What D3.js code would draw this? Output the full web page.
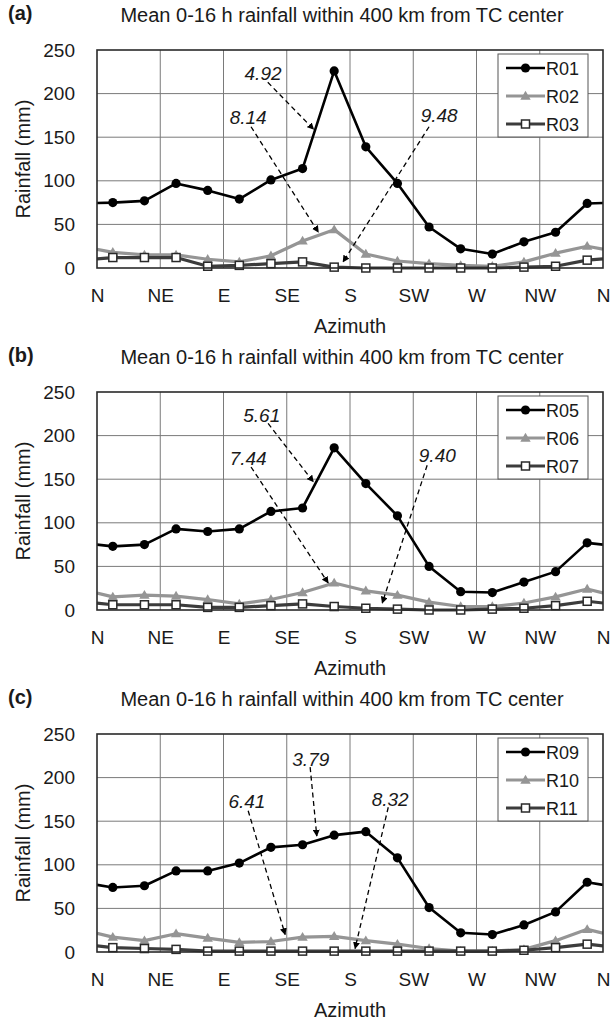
<!DOCTYPE html>
<html lang="en">
<head>
<meta charset="UTF-8">
<title>Mean 0-16 h rainfall by azimuth</title>
<style>
    body { margin: 0; background: #fff; }
    svg { display: block; font-family: "Liberation Sans", Arial, sans-serif; }
    .grid line { stroke: #7a7a7a; stroke-width: 1; }
    .frame { fill: none; stroke: #2a2a2a; stroke-width: 1.6; }
    .tick-label { font-size: 19px; fill: #1a1a1a; }
    .anno { font-size: 19px; font-style: italic; fill: #1a1a1a; }
</style>
</head>
<body>
<svg id="fig" width="612" height="1024"></svg>
<script src="https://d3js.org/d3.v7.min.js"></script>
<script>
// data, 16 azimuth bins starting just east of N
const azimuthLabels = ["N", "NE", "E", "SE", "S", "SW", "W", "NW", "N"];
const yTicks = [0, 50, 100, 150, 200, 250];
const panelLetters = ["(a)", "(b)", "(c)"];
const titleText = "Mean 0-16 h rainfall within 400 km from TC center";

const namesA = ["R01", "R02", "R03"];
const r01 = [75, 77, 97, 89, 79, 101, 114, 226, 139, 97, 47, 22, 16, 30, 41, 74];
const r02 = [18, 15, 15, 10, 7, 14, 31, 44, 16, 8, 5, 3, 2, 7, 17, 25];
const r03 = [12, 12, 12, 2, 3, 5, 7, 1, 0, 0, 0, 0, 0, 1, 2, 9];

const namesB = ["R05", "R06", "R07"];
const r05 = [73, 75, 93, 90, 93, 113, 117, 186, 145, 108, 50, 21, 20, 32, 44, 77];
const r06 = [15, 17, 16, 12, 7, 12, 20, 31, 22, 17, 9, 4, 4, 8, 15, 24];
const r07 = [6, 6, 6, 3, 3, 5, 7, 4, 2, 1, 0, 0, 1, 2, 5, 10];

const namesC = ["R09", "R10", "R11"];
const r09 = [74, 76, 93, 93, 102, 120, 123, 134, 138, 108, 51, 22, 20, 31, 46, 80];
const r10 = [17, 13, 21, 16, 11, 12, 17, 18, 13, 9, 4, 1, 1, 3, 13, 26];
const r11 = [5, 4, 3, 1, 1, 1, 1, 1, 1, 1, 1, 1, 1, 2, 5, 9];

// dashed-arrow labels, in (bin, mm) units
const annoTextA = ["4.92", "8.14", "9.48"];
const annoTextB = ["5.61", "7.44", "9.40"];
const annoTextC = ["3.79", "6.41", "8.32"];
const annoPosA = [[5.25, 224, 5.4, 213, 6.85, 159], [4.78, 173, 4.87, 162, 7.0, 41], [10.82, 176, 10.5, 162, 7.78, 7]];
const annoPosB = [[5.21, 224, 5.41, 214, 6.84, 147], [4.78, 174, 4.87, 164, 7.31, 31], [10.76, 178, 10.44, 166, 9.02, 8]];
const annoPosC = [[6.76, 221, 6.74, 212, 6.95, 133], [4.74, 173, 4.78, 162, 5.95, 20], [9.27, 176, 9.21, 166, 8.16, 4]];

const panels = [
    { series: [r01, r02, r03], names: namesA, annoText: annoTextA, annoPos: annoPosA },
    { series: [r05, r06, r07], names: namesB, annoText: annoTextB, annoPos: annoPosB },
    { series: [r09, r10, r11], names: namesC, annoText: annoTextC, annoPos: annoPosC }
];

// line styles: black dots, grey triangles, dark grey with open squares
const styles = [
    { color: "#000", width: 2.6, marker: "circle" },
    { color: "#959595", width: 3.2, marker: "triangle" },
    { color: "#3c3c3c", width: 3.2, marker: "square" }
];

const svg = d3.select("#fig");
const left = 97, right = 603, plotH = 218, panelStep = 342, firstTop = 50;

svg.append("defs").append("marker")
    .attr("id", "arrow")
    .attr("viewBox", "0 0 10 10")
    .attr("refX", 9).attr("refY", 5)
    .attr("markerWidth", 7).attr("markerHeight", 7)
    .attr("markerUnits", "userSpaceOnUse")
    .attr("orient", "auto")
    .append("path").attr("d", "M0,0 L10,5 L0,10 Z").attr("fill", "#000");

function drawMarker(g, type, x, y, st) {
    if (type === "circle") {
        g.append("circle").attr("cx", x).attr("cy", y).attr("r", 4.6).attr("fill", "#000");
    } else if (type === "triangle") {
        const s = 5.2;
        g.append("path")
            .attr("d", `M${x},${y - s} L${x + s},${y + s * 0.7} L${x - s},${y + s * 0.7} Z`)
            .attr("fill", st.color);
    } else {
        g.append("rect").attr("x", x - 4).attr("y", y - 4).attr("width", 8).attr("height", 8)
            .attr("fill", "#fff").attr("stroke", "#2a2a2a").attr("stroke-width", 1.5);
    }
}

panels.forEach((p, k) => {
    const top = firstTop + k * panelStep;
    const bottom = top + plotH;
    const g = svg.append("g");

    const x = d3.scaleLinear().domain([0, 16]).range([left, right]);
    const y = d3.scaleLinear().domain([0, 250]).range([bottom, top]);

    // titles
    g.append("text").attr("x", 8).attr("y", top - 30)
        .attr("font-size", 20).attr("font-weight", "bold").attr("fill", "#1a1a1a")
        .text(panelLetters[k]);
    g.append("text").attr("x", 342).attr("y", top - 28)
        .attr("text-anchor", "middle").attr("font-size", 20).attr("fill", "#1a1a1a")
        .text(titleText);

    // grid
    const grid = g.append("g").attr("class", "grid");
    grid.selectAll(".v").data(d3.range(2, 16, 2)).join("line")
        .attr("x1", d => x(d)).attr("x2", d => x(d)).attr("y1", top).attr("y2", bottom);
    grid.selectAll(".h").data(yTicks.slice(1, -1)).join("line")
        .attr("x1", left).attr("x2", right).attr("y1", d => y(d)).attr("y2", d => y(d));

    // axes (labels only)
    const yAxis = d3.axisLeft(y).tickValues(yTicks).tickSize(0).tickPadding(22);
    const ya = g.append("g").attr("transform", `translate(${left},0)`).call(yAxis);
    ya.select(".domain").remove();
    ya.selectAll("text").attr("class", "tick-label").attr("font-size", null).attr("font-family", null);

    const xAxis = d3.axisBottom(x).tickValues(d3.range(0, 17, 2))
        .tickFormat((d, i) => azimuthLabels[i]).tickSize(0).tickPadding(21);
    const xa = g.append("g").attr("transform", `translate(0,${bottom})`).call(xAxis);
    xa.select(".domain").remove();
    xa.selectAll("text").attr("class", "tick-label").attr("font-size", null).attr("font-family", null);

    g.append("text").attr("x", (left + right) / 2).attr("y", bottom + 65)
        .attr("text-anchor", "middle").attr("font-size", 20).attr("fill", "#1a1a1a")
        .text("Azimuth");
    g.append("text")
        .attr("transform", `translate(30,${(top + bottom) / 2}) rotate(-90)`)
        .attr("text-anchor", "middle").attr("font-size", 20).attr("fill", "#1a1a1a")
        .text("Rainfall (mm)");

    // series
    const clipId = "clip" + k;
    g.append("clipPath").attr("id", clipId).append("rect")
        .attr("x", left).attr("y", top - 20).attr("width", right - left).attr("height", plotH + 40);
    const line = d3.line().x(d => x(d[0])).y(d => y(d[1]));
    p.series.forEach((vals, s) => {
        const edge = (vals[0] + vals[vals.length - 1]) / 2;
        const pts = [[0, edge]].concat(vals.map((v, i) => [i + 0.5, v]), [[16, edge]]);
        const sg = g.append("g");
        sg.append("path").datum(pts).attr("d", line)
            .attr("fill", "none").attr("stroke", styles[s].color)
            .attr("stroke-width", styles[s].width).attr("stroke-linejoin", "round")
            .attr("clip-path", `url(#${clipId})`);
        vals.forEach((v, i) => drawMarker(sg, styles[s].marker, x(i + 0.5), y(v), styles[s]));
    });

    g.append("rect").attr("class", "frame")
        .attr("x", left).attr("y", top).attr("width", right - left).attr("height", plotH);

    // dashed arrows
    p.annoPos.forEach((a, i) => {
        g.append("line")
            .attr("x1", x(a[2])).attr("y1", y(a[3])).attr("x2", x(a[4])).attr("y2", y(a[5]))
            .attr("stroke", "#000").attr("stroke-width", 1.3).attr("stroke-dasharray", "5,3.5")
            .attr("marker-end", "url(#arrow)");
        g.append("text").attr("class", "anno")
            .attr("x", x(a[0])).attr("y", y(a[1]) + 7).attr("text-anchor", "middle")
            .text(p.annoText[i]);
    });

    // legend
    const lg = g.append("g").attr("transform", `translate(498,${top + 4})`);
    lg.append("rect").attr("width", 90).attr("height", 83)
        .attr("fill", "#fff").attr("stroke", "#555").attr("stroke-width", 1);
    p.names.forEach((name, s) => {
        const cy = 14 + s * 28;
        lg.append("line").attr("x1", 8).attr("x2", 47).attr("y1", cy).attr("y2", cy)
            .attr("stroke", styles[s].color).attr("stroke-width", styles[s].width);
        drawMarker(lg, styles[s].marker, 27.5, cy, styles[s]);
        lg.append("text").attr("x", 48).attr("y", cy + 6.5)
            .attr("font-size", 18).attr("fill", "#1a1a1a").text(name);
    });
});
</script>
</body>
</html>
